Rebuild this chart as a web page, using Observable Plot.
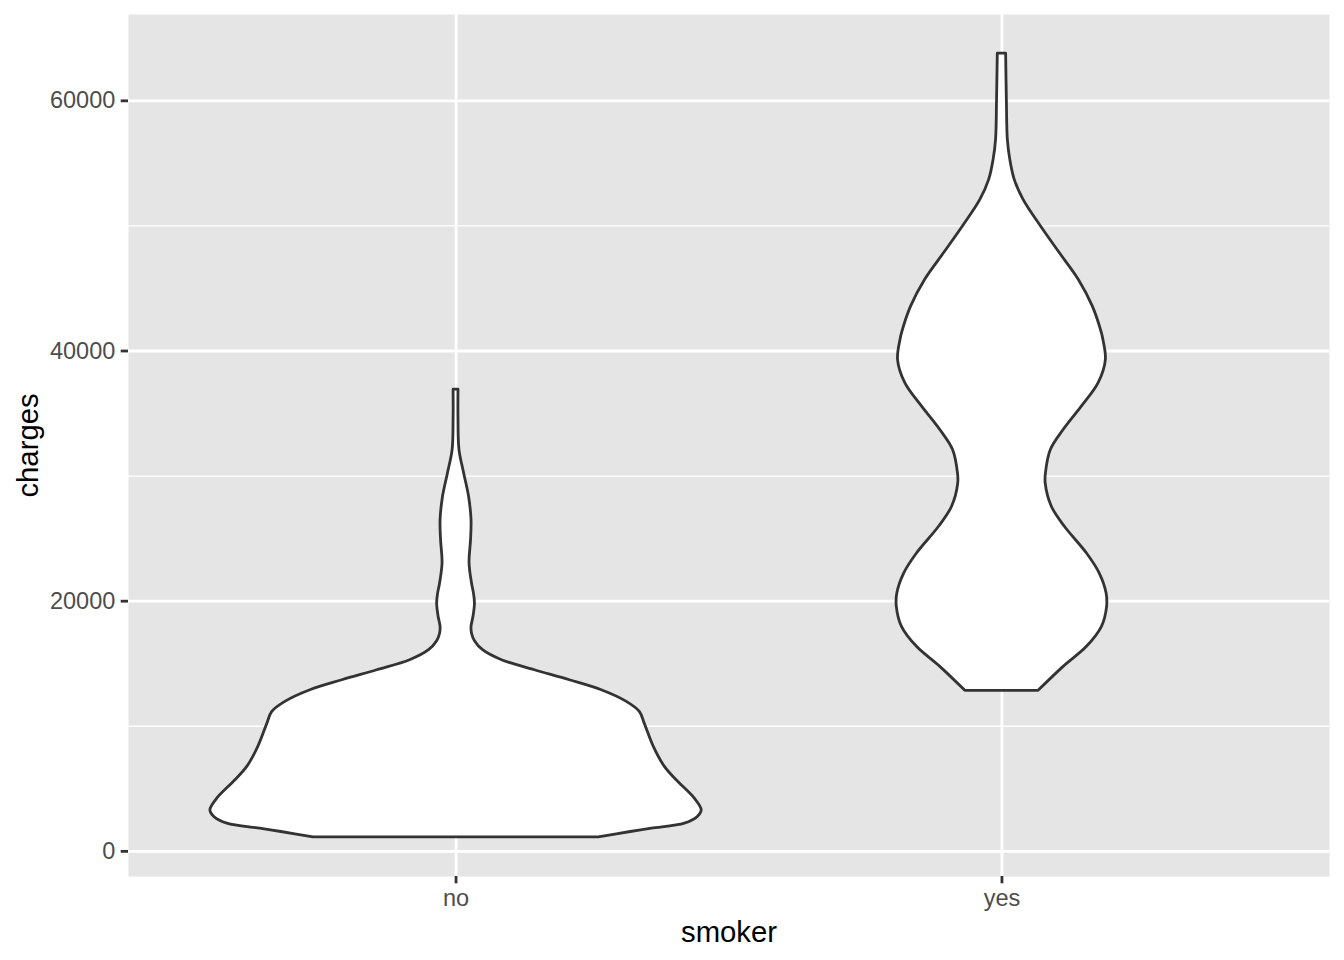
<!DOCTYPE html>
<html>
<head>
<meta charset="utf-8">
<script src="https://cdn.jsdelivr.net/npm/d3@7"></script>
<script src="https://cdn.jsdelivr.net/npm/@observablehq/plot@0.6"></script>
<style>
  html, body { margin: 0; padding: 0; background: #ffffff; }
  #chart { width: 1344px; height: 960px; }
</style>
</head>
<body>
<div id="chart"></div>
<script>
// ---- Data (violin outlines: charges vs relative density width) ----
const categories = ["no", "yes"];

const noCharges = [1122, 1547, 1813, 2213, 2747, 3280, 4213, 5680, 6750, 8350, 10210, 11150, 11950, 12880, 13680, 14480, 15280, 16080, 16800, 17400, 17950, 18750, 19810, 20600, 21410, 23010, 24880, 26480, 28350, 30210, 32080, 34480, 36910];
const noDensity = [0.581, 0.711, 0.797, 0.931, 0.984, 1.0, 0.972, 0.898, 0.850, 0.805, 0.768, 0.748, 0.695, 0.593, 0.463, 0.321, 0.187, 0.110, 0.077, 0.065, 0.063, 0.071, 0.077, 0.073, 0.065, 0.055, 0.061, 0.063, 0.053, 0.033, 0.014, 0.010, 0.010];

const yesCharges = [12830, 14750, 16350, 17950, 19550, 20610, 22210, 23810, 25950, 27550, 29410, 30210, 32080, 33680, 35550, 37410, 39280, 40880, 41410, 43550, 45680, 47810, 49950, 52080, 53680, 55280, 56880, 60080, 63770];
const yesDensity = [0.149, 0.251, 0.346, 0.407, 0.428, 0.426, 0.398, 0.346, 0.256, 0.203, 0.178, 0.179, 0.199, 0.251, 0.325, 0.393, 0.423, 0.413, 0.407, 0.370, 0.313, 0.236, 0.159, 0.088, 0.052, 0.034, 0.024, 0.020, 0.017];

const yMajorTicks = [0, 20000, 40000, 60000];
const yMinorTicks = [10000, 30000, 50000];
const xLabel = "smoker";
const yLabel = "charges";

// ---- Build table ----
const violinWidth = 0.45; // half of ggplot's 0.9 width
const series = [
  {cat: categories[0], pos: 1, ys: noCharges, ds: noDensity},
  {cat: categories[1], pos: 2, ys: yesCharges, ds: yesDensity}
];
const rows = series.flatMap(s => s.ys.map((y, i) => ({cat: s.cat, pos: s.pos, y, d: s.ds[i]})));

const font = "'Liberation Sans', Arial, Helvetica, sans-serif";

const chart = Plot.plot({
  width: 1344,
  height: 960,
  marginLeft: 128,
  marginRight: 15,
  marginTop: 14,
  marginBottom: 84,
  style: {fontFamily: font, background: "#ffffff", overflow: "visible"},
  x: {type: "linear", domain: [0.4, 2.6], axis: null},
  y: {domain: [-2011, 66902], axis: null},
  marks: [
    Plot.frame({fill: "#E5E5E5", stroke: null}),
    Plot.ruleY(yMinorTicks, {stroke: "#ffffff", strokeWidth: 1.4}),
    Plot.ruleY(yMajorTicks, {stroke: "#ffffff", strokeWidth: 2.8}),
    Plot.ruleX([1, 2], {stroke: "#ffffff", strokeWidth: 2.8}),
    Plot.areaX(rows, {
      y: "y",
      x1: r => r.pos - violinWidth * r.d,
      x2: r => r.pos + violinWidth * r.d,
      z: "cat",
      fill: "#ffffff",
      stroke: "#333333",
      strokeWidth: 2.8,
      strokeLinejoin: "round",
      curve: "catmull-rom"
    }),
    Plot.axisY(yMajorTicks, {
      anchor: "left",
      tickSize: 7.3,
      tickPadding: 5.9,
      stroke: "#333333",
      strokeWidth: 2.8,
      fill: "#4D4D4D",
      fontSize: 23.5,
      label: null,
      tickFormat: d => String(d)
    }),
    Plot.axisX([1, 2], {
      anchor: "bottom",
      tickSize: 7.3,
      tickPadding: 5.9,
      stroke: "#333333",
      strokeWidth: 2.8,
      fill: "#4D4D4D",
      fontSize: 23.5,
      label: null,
      tickFormat: d => categories[d - 1]
    }),
    Plot.text([yLabel], {frameAnchor: "left", textAnchor: "middle", dx: -100, rotate: -90, text: d => d, fontSize: 29.3, fill: "#000000"}),
    Plot.text([xLabel], {frameAnchor: "bottom", textAnchor: "middle", dy: 65, text: d => d, fontSize: 29.3, fill: "#000000"})
  ]
});
document.getElementById("chart").appendChild(chart);
</script>
</body>
</html>
